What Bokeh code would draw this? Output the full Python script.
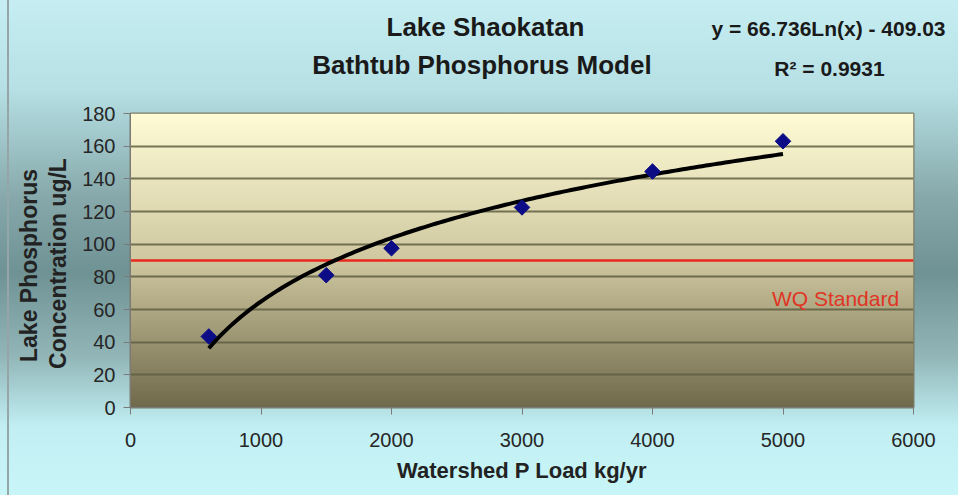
import numpy as np
from bokeh.plotting import figure
from bokeh.models import Range1d, Span, Label, FixedTicker
from bokeh.embed import file_html
from bokeh.resources import INLINE

# ---- data ----
load_kg_yr = [600, 1500, 2000, 3000, 4000, 5000]
lake_p_ugL = [43.5, 81, 97.5, 122.5, 144.5, 163]
x_ticks = [0, 1000, 2000, 3000, 4000, 5000, 6000]
y_ticks = [0, 20, 40, 60, 80, 100, 120, 140, 160, 180]
wq_standard = 90
wq_label = "WQ Standard"
title_lines = ["Lake Shaokatan", "Bathtub Phosphorus  Model"]
equation_text = "y = 66.736Ln(x) - 409.03"
r2_text = "R\u00b2 = 0.9931"
x_label = "Watershed P Load kg/yr"
y_label_lines = ["Lake Phosphorus", "Concentration ug/L"]

FONT = "Liberation Sans"

p = figure(width=958, height=495, output_backend="svg", toolbar_location=None,
           x_range=Range1d(x_ticks[0], x_ticks[-1]), y_range=Range1d(y_ticks[0], y_ticks[-1]),
           min_border_left=130, min_border_right=45, min_border_top=113, min_border_bottom=88)
p.border_fill_alpha = 0
p.background_fill_alpha = 0
p.styles = {"background": (
    "linear-gradient(to right, rgba(0,0,0,0) 7px, #95a6a8 7px, #95a6a8 9px, rgba(0,0,0,0) 9px), "
    "linear-gradient(to bottom, #c6eef2 0%, #b6e0e4 18%, #86a8aa 40%, #6f9294 55%, "
    "#92b6b8 72%, #c0eef2 86%, #c8f6f8 100%)")}
p.outline_line_color = "#7c7c66"
p.outline_line_width = 2

# plot-area gradient (light yellow top -> olive bottom)
ny = 256
t = np.linspace(0, 1, ny)[:, None]
bottom_c = np.array([0x70, 0x6a, 0x4c], dtype=float)
mid_c = np.array([0xcf, 0xc8, 0xa0], dtype=float)
top_c = np.array([0xff, 0xfc, 0xd6], dtype=float)
cols = np.where(t < 0.5, bottom_c + (mid_c - bottom_c) * (t / 0.5),
                mid_c + (top_c - mid_c) * ((t - 0.5) / 0.5))
img = np.empty((ny, 1), dtype=np.uint32)
view = img.view(dtype=np.uint8).reshape((ny, 1, 4))
view[:, 0, 0] = cols[:, 0]
view[:, 0, 1] = cols[:, 1]
view[:, 0, 2] = cols[:, 2]
view[:, 0, 3] = 255
p.image_rgba(image=[img], x=x_ticks[0], y=y_ticks[0], dw=x_ticks[-1] - x_ticks[0],
             dh=y_ticks[-1] - y_ticks[0], level="image")

# grid
p.xgrid.visible = False
p.ygrid.ticker = FixedTicker(ticks=y_ticks)
p.ygrid.grid_line_color = "#5f5f42"
p.ygrid.grid_line_width = 2
p.ygrid.grid_line_alpha = 0.85

# axes
for ax, ticks in ((p.xaxis, x_ticks), (p.yaxis, y_ticks)):
    ax.ticker = FixedTicker(ticks=ticks)
    ax.axis_line_color = "#7a7a7a"
    ax.major_tick_line_color = "#7a7a7a"
    ax.major_tick_out = 7
    ax.major_tick_in = 0
    ax.minor_tick_line_color = None
    ax.major_label_text_font = FONT
    ax.major_label_text_font_size = "20px"
    ax.major_label_text_color = "#262626"
p.xaxis.major_label_standoff = 18
p.yaxis.major_label_standoff = 8
p.xaxis.axis_label = x_label
p.xaxis.axis_label_text_font = FONT
p.xaxis.axis_label_text_font_style = "bold"
p.xaxis.axis_label_text_font_size = "22px"
p.xaxis.axis_label_text_color = "#222222"
p.xaxis.axis_label_standoff = 8

# WQ standard line
p.add_layout(Span(location=wq_standard, dimension="width", line_color="#e8281e",
                  line_width=2.5, level="underlay"))
p.add_layout(Label(x=5890, y=67, text=wq_label, text_align="right", text_baseline="middle",
                   text_font=FONT, text_font_size="21px", text_color="#e03424"))

# log trend line fitted to the points
slope, intercept = np.polyfit(np.log(load_kg_yr), lake_p_ugL, 1)
xs = np.linspace(min(load_kg_yr), max(load_kg_yr), 150)
p.line(xs, slope * np.log(xs) + intercept, line_color="#000000", line_width=4)

p.scatter(load_kg_yr, lake_p_ugL, marker="square", angle=np.pi / 4, size=11,
          fill_color="#0c0c86", line_color="#0c0c86")


def side_text(side, x, y, text, size, angle=0, baseline="alphabetic", color="#1a1a1a"):
    p.add_layout(Label(x=x, y=y, x_units="screen", y_units="screen", text=text,
                       text_align="center", text_baseline=baseline, angle=angle,
                       text_font=FONT, text_font_size=size, text_color=color,
                       text_font_style="bold"), side)


# above panels, nearest the frame first (positions relative to each panel)
side_text("above", 699, 45, r2_text, "21px")
side_text("above", 355, 26, title_lines[1], "26px")
side_text("above", 698, 32, equation_text, "21px")
side_text("above", 355, 11, title_lines[0], "26px")

# left panels, after the y axis
side_text("left", 4, 144, y_label_lines[1], "23px", angle=np.pi / 2, baseline="middle", color="#222222")
side_text("left", 1, 142, y_label_lines[0], "23px", angle=np.pi / 2, baseline="middle", color="#222222")

open("out.html", "w").write(file_html(p, INLINE))
